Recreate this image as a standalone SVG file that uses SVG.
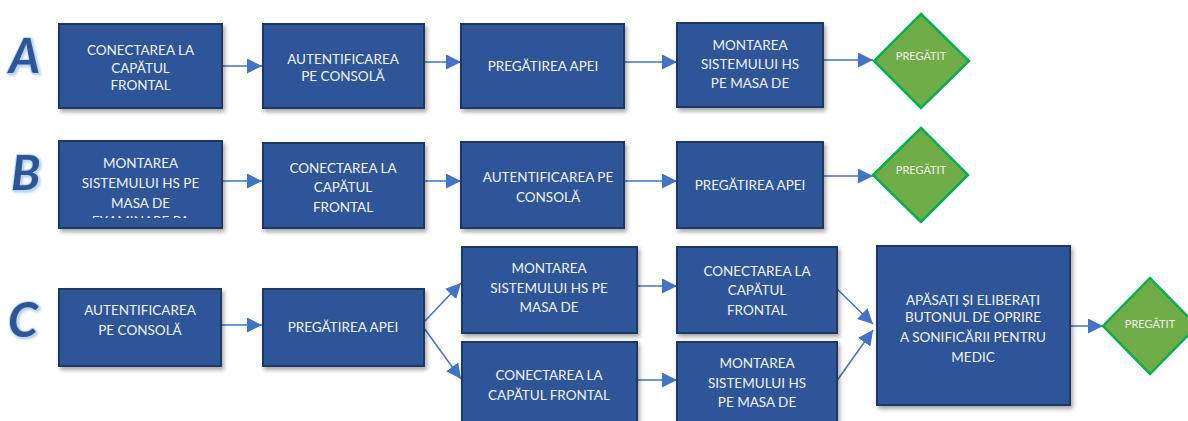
<svg xmlns="http://www.w3.org/2000/svg" width="1188" height="421" viewBox="0 0 1188 421">
<style>
.box{fill:#2F5597;stroke:#1F3864;stroke-width:2;filter:url(#sh)}
.dia{fill:#70AD47;stroke:#00B050;stroke-width:2.5}
.t{font-family:Lato,"Liberation Sans",sans-serif;font-size:13.5px;fill:#EEF1F7;text-anchor:middle}
.d{font-family:Lato,"Liberation Sans",sans-serif;font-size:11px;fill:#EEF3EA;text-anchor:middle}
.L{font-family:Lato,"Open Sans",sans-serif;font-size:48px;font-style:italic;font-weight:bold;fill:#2F5597;stroke:#BDD7EE;stroke-width:2;paint-order:stroke;filter:url(#gl)}
.c{fill:none;stroke:#4472C4;stroke-width:1.5;marker-end:url(#ah)}
</style>
<defs>
<filter id="sh" x="-10%" y="-10%" width="130%" height="130%"><feDropShadow dx="2" dy="3" stdDeviation="2" flood-color="#000" flood-opacity="0.35"/></filter>
<filter id="gl" x="-30%" y="-30%" width="160%" height="160%"><feDropShadow dx="1.5" dy="1.5" stdDeviation="1" flood-color="#9DC3E6" flood-opacity="0.8"/></filter>
<marker id="ah" viewBox="0 0 14 14" refX="14" refY="7" markerWidth="15" markerHeight="15" markerUnits="userSpaceOnUse" orient="auto"><path d="M0,0 L14,7 L0,14 z" fill="#4472C4"/></marker>
<clipPath id="cb1"><rect x="60" y="141" width="161" height="77"/></clipPath>
</defs>
<rect width="1188" height="421" fill="#fff"/>
<g id="labels">
<text class="L" x="9" y="73">A</text>
<text class="L" x="11" y="190">B</text>
<text class="L" x="8" y="337">C</text>
</g>
<g id="connectors">
<line class="c" x1="222" y1="66" x2="262" y2="66"/>
<line class="c" x1="424" y1="62" x2="461" y2="62"/>
<line class="c" x1="624" y1="62" x2="677" y2="62"/>
<line class="c" x1="823" y1="60" x2="873" y2="60"/>
<line class="c" x1="222" y1="181" x2="262" y2="181"/>
<line class="c" x1="424" y1="181" x2="461" y2="181"/>
<line class="c" x1="624" y1="181" x2="677" y2="181"/>
<line class="c" x1="823" y1="176" x2="873" y2="176"/>
<line class="c" x1="221" y1="325" x2="262" y2="325"/>
<line class="c" x1="424" y1="322" x2="461" y2="283"/>
<line class="c" x1="424" y1="328" x2="461" y2="379"/>
<line class="c" x1="637" y1="286" x2="677" y2="286"/>
<line class="c" x1="637" y1="380" x2="677" y2="380"/>
<line class="c" x1="836" y1="288" x2="873" y2="324"/>
<line class="c" x1="836" y1="382" x2="873" y2="330"/>
<line class="c" x1="1070" y1="326" x2="1103" y2="326"/>
</g>
<g id="A1"><rect class="box" x="59" y="24" width="163" height="84"/>
<text class="t" x="140.5" y="55">CONECTAREA LA</text><text class="t" x="140.5" y="73">CAPĂTUL</text><text class="t" x="140.5" y="90">FRONTAL</text></g>
<g id="A2"><rect class="box" x="263" y="24" width="161" height="84"/>
<text class="t" x="343" y="64">AUTENTIFICAREA</text><text class="t" x="343" y="81">PE CONSOLĂ</text></g>
<g id="A3"><rect class="box" x="461" y="24" width="163" height="84"/>
<text class="t" x="543" y="71">PREGĂTIREA APEI</text></g>
<g id="A4"><rect class="box" x="677" y="23" width="146" height="84"/>
<text class="t" x="750" y="50">MONTAREA</text><text class="t" x="750" y="69">SISTEMULUI HS</text><text class="t" x="750" y="88">PE MASA DE</text></g>
<g id="DA"><polygon class="dia" points="921,14 969,61 921,108 874,61"/>
<text class="d" x="921" y="60">PREGĂTIT</text></g>
<g id="B1"><rect class="box" x="59" y="141" width="163" height="87"/>
<text class="t" x="140.5" y="168">MONTAREA</text><text class="t" x="140.5" y="188">SISTEMULUI HS PE</text><text class="t" x="140.5" y="208">MASA DE</text>
<text class="t" x="140.5" y="226" clip-path="url(#cb1)">EXAMINARE PA</text></g>
<g id="B2"><rect class="box" x="263" y="143" width="161" height="85"/>
<text class="t" x="343" y="173">CONECTAREA LA</text><text class="t" x="343" y="192">CAPĂTUL</text><text class="t" x="343" y="212">FRONTAL</text></g>
<g id="B3"><rect class="box" x="461" y="142" width="163" height="86"/>
<text class="t" x="548" y="182">AUTENTIFICAREA PE</text><text class="t" x="548" y="202">CONSOLĂ</text></g>
<g id="B4"><rect class="box" x="677" y="142" width="146" height="86"/>
<text class="t" x="750" y="190">PREGĂTIREA APEI</text></g>
<g id="DB"><polygon class="dia" points="921,128 968,175 921,222 873,175"/>
<text class="d" x="921" y="174">PREGĂTIT</text></g>
<g id="C1"><rect class="box" x="59" y="289" width="162" height="77"/>
<text class="t" x="140" y="315">AUTENTIFICAREA</text><text class="t" x="140" y="335">PE CONSOLĂ</text></g>
<g id="C2"><rect class="box" x="263" y="289" width="161" height="77"/>
<text class="t" x="343" y="332">PREGĂTIREA APEI</text></g>
<g id="C3a"><rect class="box" x="462" y="247" width="175" height="86"/>
<text class="t" x="549" y="273">MONTAREA</text><text class="t" x="549" y="293">SISTEMULUI HS PE</text><text class="t" x="549" y="312">MASA DE</text></g>
<g id="C3b"><rect class="box" x="462" y="342" width="175" height="90"/>
<text class="t" x="549" y="380">CONECTAREA LA</text><text class="t" x="549" y="400">CAPĂTUL FRONTAL</text></g>
<g id="C4a"><rect class="box" x="677" y="247" width="160" height="86"/>
<text class="t" x="757" y="276">CONECTAREA LA</text><text class="t" x="757" y="295">CAPĂTUL</text><text class="t" x="757" y="315">FRONTAL</text></g>
<g id="C4b"><rect class="box" x="677" y="342" width="160" height="90"/>
<text class="t" x="757" y="368">MONTAREA</text><text class="t" x="757" y="388">SISTEMULUI HS</text><text class="t" x="757" y="407">PE MASA DE</text></g>
<g id="C5"><rect class="box" x="877" y="246" width="193" height="159"/>
<text class="t" x="973" y="305">APĂSAȚI ȘI ELIBERAȚI</text><text class="t" x="973" y="322">BUTONUL DE OPRIRE</text><text class="t" x="973" y="342">A SONIFICĂRII PENTRU</text><text class="t" x="973" y="362">MEDIC</text></g>
<g id="DC"><polygon class="dia" points="1150,278 1197,326 1150,374 1103,326"/>
<text class="d" x="1150" y="328">PREGĂTIT</text></g>
</svg>
